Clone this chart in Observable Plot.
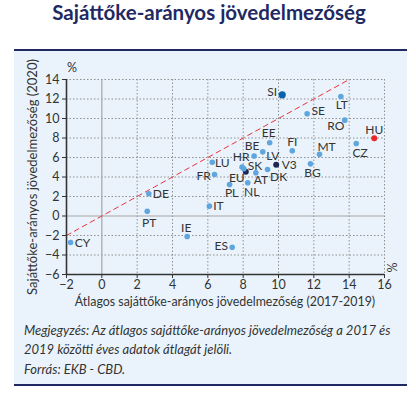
<!DOCTYPE html>
<html>
<head>
<meta charset="utf-8">
<script src="https://cdn.jsdelivr.net/npm/d3@7"></script>
<script src="https://cdn.jsdelivr.net/npm/@observablehq/plot@0.6"></script>
<style>
  body { margin: 0; background: #fff; }
  #wrap { position: relative; width: 416px; height: 395px; font-family: Lato, "Open Sans", sans-serif; color: #333; }
  #title { position: absolute; left: 0; top: 0px; width: 418px; text-align: center; font-weight: bold; font-size: 20.5px; color: #1f2a63; }
  #panel { position: absolute; left: 14px; top: 49px; width: 393px; height: 333px; background: #eaf3fb; border-top: 2px solid #1f2a63; border-bottom: 2px solid #1f2a63; }
  #chart { position: absolute; left: 0; top: 51px; }
  .note { position: absolute; left: 24px; font-style: italic; font-size: 13px; color: #333; white-space: nowrap; }
  .pct { position: absolute; font-size: 12.5px; color: #333; }
  #ytitle { position: absolute; left: 32px; top: 177px; transform: translate(-50%, -50%) rotate(-90deg); white-space: nowrap; font-size: 13px; }
  #xtitle { position: absolute; left: 225px; top: 301px; transform: translate(-50%, -50%); white-space: nowrap; font-size: 12.4px; }
</style>
</head>
<body>
<div id="wrap">
  <div id="title">Sajáttőke-arányos jövedelmezőség</div>
  <div id="panel"></div>
  <div id="chart"></div>
  <div class="pct" style="left:67px; top:60px;">%</div>
  <div class="pct" style="left:386px; top:260px; transform: rotate(90deg);">%</div>
  <div id="ytitle">Sajáttőke-arányos jövedelmezőség (2020)</div>
  <div id="xtitle">Átlagos sajáttőke-arányos jövedelmezőség (2017-2019)</div>
  <div class="note" style="top:322px;">Megjegyzés: Az átlagos sajáttőke-arányos jövedelmezőség a 2017 és</div>
  <div class="note" style="top:341px;">2019 közötti éves adatok átlagát jelöli.</div>
  <div class="note" style="top:361px;">Forrás: EKB - CBD.</div>
</div>
<script>
// Data
const codes = ["SI","LT","SE","RO","HU","CZ","EE","FI","MT","BE","LV","HR","SK","EU","AT","DK","NL","PL","FR","LU","V3","BG","DE","PT","IT","IE","ES","CY"];
const roeAvg2017_2019 = [10.21,13.53,11.62,13.75,15.42,14.40,9.50,10.78,12.32,8.62,9.11,7.94,8.04,8.15,8.72,9.38,8.26,7.23,6.38,6.25,9.87,11.81,2.66,2.57,6.09,4.83,7.38,-1.77];
const roe2020 = [12.43,12.26,10.48,9.83,7.98,7.44,7.51,6.69,6.34,6.15,6.58,5.01,4.84,4.53,4.43,4.77,3.41,3.23,4.26,5.52,5.25,5.35,2.28,0.49,1.01,-2.10,-3.20,-2.72];
const groups = ["si","c","c","c","hu","c","c","c","c","c","c","c","c","agg","c","c","c","c","c","c","agg","c","c","c","c","c","c","c"];
const xTicks = [-2,0,2,4,6,8,10,12,14,16];
const yTicks = [-6,-4,-2,0,2,4,6,8,10,12,14];
const diagonal = [-2,14];

// Layout / style (not data)
const colors = {c: "#5fa6df", si: "#0a62ad", hu: "#e8262c", agg: "#1b2656"};
const radius = {c: 2.8, si: 3.6, hu: 3, agg: 3};
const labelOffset = {
  SI:[-10,-3], LT:[1,9], SE:[11,-3], RO:[-9,6], HU:[0,-8], CZ:[4,10], EE:[-1,-10], FI:[0,-9],
  MT:[7,-7], BE:[-2,-10], LV:[10,4], HR:[-1,-10], SK:[11,-3], EU:[-9,6], AT:[5,7], DK:[11,8],
  NL:[4,9], PL:[2,9], FR:[-11,2], LU:[10,1], V3:[13,0], BG:[2,9], DE:[12,0], PT:[2,12],
  IT:[9,0], IE:[-1,-8], ES:[-11,-1], CY:[12,1]
};

const points = codes.map((c, i) => ({code: c, x: roeAvg2017_2019[i], y: roe2020[i], g: groups[i]}));
const fmt = d => d < 0 ? "\u2212" + Math.abs(d) : String(d);
const dotted = {stroke: "#8f8f8f", strokeOpacity: 1, strokeDasharray: "1.5,2", strokeWidth: 1};

const chart = Plot.plot({
  width: 416,
  height: 260,
  marginTop: 28,
  marginBottom: 37,
  marginLeft: 66,
  marginRight: 32,
  style: {background: "transparent", fontFamily: "Lato, 'Open Sans', sans-serif", fontSize: "12.5px", color: "#333"},
  x: {domain: [-2, 16]},
  y: {domain: [-6, 14]},
  marks: [
    Plot.ruleX(xTicks.filter(d => d !== 0 && d !== -2), {...dotted}),
    Plot.ruleY(yTicks.filter(d => d !== 0 && d !== -6), {...dotted}),
    Plot.ruleX([0], {stroke: "#a6a6a6", strokeWidth: 1.2}),
    Plot.ruleY([0], {stroke: "#a6a6a6", strokeWidth: 1.2}),
    Plot.line(diagonal.map(v => ({x: v, y: v})), {x: "x", y: "y", stroke: "#e8343a", strokeWidth: 1, strokeDasharray: "5,4"}),
    Plot.ruleX([-2], {stroke: "#333", strokeWidth: 1.6}),
    Plot.ruleY([-6], {stroke: "#333", strokeWidth: 1.6}),
    Plot.axisX({ticks: xTicks, tickFormat: fmt, tickSize: 4, tickPadding: 2, label: null, stroke: "#333", fill: "#333"}),
    Plot.axisY({ticks: yTicks, tickFormat: fmt, tickSize: 4, tickPadding: 3, label: null, stroke: "#333", fill: "#333"}),
    Plot.dot(points, {x: "x", y: "y", r: d => radius[d.g], fill: d => colors[d.g], stroke: "none"}),
    ...points.map(p => Plot.text([p], {x: "x", y: "y", text: "code", dx: labelOffset[p.code][0], dy: labelOffset[p.code][1], fill: "#333", fontSize: 12}))
  ],
  r: {type: "identity"}
});
document.getElementById("chart").appendChild(chart);
</script>
</body>
</html>
